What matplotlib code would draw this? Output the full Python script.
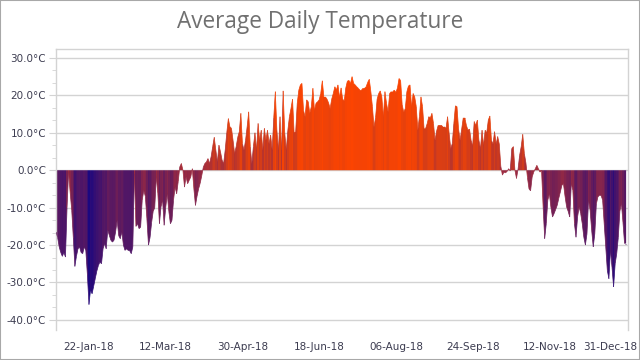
import numpy as np
import pandas as pd
import matplotlib
matplotlib.use('Agg')
import matplotlib.pyplot as plt
import matplotlib.dates as mdates
from matplotlib.colors import LinearSegmentedColormap, Normalize
from matplotlib.collections import LineCollection
from matplotlib.path import Path
from matplotlib.ticker import MultipleLocator, AutoMinorLocator, FuncFormatter
from matplotlib.patches import Rectangle
from matplotlib.transforms import ScaledTranslation

days = pd.date_range('2018-01-01', '2018-12-31', freq='D')

# average daily temperature, degC
temps = [
    -16.5, -18, -20.5, -22, -23, -22, -23.2, -10, -0.5, -6,
    -10.7, -18, -25.7, -23, -21, -20.5, -22, -22.3, -20.5, -21.5,
    -28, -35.9, -32, -33, -31, -29, -27, -25.5, -24.5, -25,
    -21, -19.6, -21, -16, -17.4, -18.7, -19.2, -18.7, -16.5, -13.4,
    -17.5, -18.3, -16.5, -20, -21.4, -21, -21.4, -21.5, -22.3, -20.5,
    -1, -15, -14.3, -15.6, -15.2, -8, -5.4, -7, -13, -20,
    -18, -14, -11, -10, -1.8, -6.3, -14.3, -9.8, -8, -14.7,
    -10, -6.3, -11, -14.3, -13.4, -8, -4.5, -6.3, -3, 0.9,
    1.8, 0, -4.5, -1.8, -3.6, -2.7, -1.8, 0.4, -5, -9.4,
    -7, -5, -3.5, -1.5, 0.8, 1.8, 2.2, 3.1, 1.8, 3.6,
    6.3, 8.8, 5.4, 2.2, 6.7, 4.9, 2.7, 1.8, 5.4, 10,
    13.8, 11.6, 11.2, 8, 4.5, 6.3, 8.8, 10.3, 15.2, 7.1,
    5.4, 8, 11.6, 15.6, 6.3, 1.8, 6.3, 10, 5.4, 12.5,
    8, 10.7, 5.4, 11.2, 8, 10.7, 7.1, 9.4, 5.4, 14,
    21, 10.7, 5.4, 14.3, 5.4, 21.2, 10, 5.4, 10.7, 14.3,
    16.5, 19, 10, 10.3, 17.9, 21.4, 22.8, 23.2, 16, 14.3,
    18.8, 18.3, 15.2, 17, 21.9, 16, 17.9, 18.3, 18.8, 20.5,
    23.9, 19.6, 19.6, 19, 18, 16.5, 19, 20.5, 22.3, 21.5,
    22.8, 19.5, 22, 19, 18.5, 22, 23.8, 24, 23.2, 25,
    23.2, 22.8, 22.3, 21.9, 21.4, 21.4, 21.9, 21.9, 22.3, 23.5,
    24.3, 21, 17, 11.6, 14, 19, 20.5, 21.2, 19.6, 14.3,
    21, 17.9, 15.6, 20.5, 21, 21, 21.4, 20.8, 22, 24.5,
    24, 17.5, 15.5, 16.5, 21, 22.5, 22.8, 17, 20.5, 19.6,
    17, 10.7, 14.3, 19.6, 17, 11, 11.2, 12.5, 14.3, 14,
    15.2, 12.5, 8, 10.5, 12, 12, 12, 11.6, 11.6, 11.2,
    14.3, 9.8, 5.8, 7.1, 12.5, 17.2, 17, 11, 8, 11,
    14, 14, 12, 10.7, 11, 8, 6.5, 13, 12, 13.4,
    8, 5.8, 10.7, 6.7, 10.7, 10, 13.4, 14.5, 8, 7,
    10.3, 7, 9, 7, 1, -1.3, -0.5, -0.7, -0.3, 0.4,
    -0.2, 5.8, 6.3, 0, -2.2, 0.3, 4, 6.3, 9.6, 4.5,
    2, -2, -5, -5.5, -1.8, -0.5, 0.4, 1.3, 0.4, -0.5,
    0, -9.8, -18.3, -14.3, -8, -6.3, -10, -12.5, -11.6, -10.5,
    -9.4, -7.5, -5.8, -4, -3.6, -7, -9.8, -11, -12.5, -3.6,
    -5.4, -14.3, -17.9, -12.5, -9.8, -11.6, -14.3, -17.9, -20, -17,
    -8, -10.7, -16, -20.5, -17, -9, -7.1, -6.7, -6.7, -8,
    -14.3, -20.5, -26.8, -29, -21.4, -26, -31.2, -25, -22.3, -18,
    -11, -8.9, -14, -19.6, -19.6,
]

tick_dates = ['2018-01-22', '2018-03-12', '2018-04-30', '2018-06-18',
              '2018-08-06', '2018-09-24', '2018-11-12', '2018-12-31']
tick_labels = ['22-Jan-18', '12-Mar-18', '30-Apr-18', '18-Jun-18',
               '06-Aug-18', '24-Sep-18', '12-Nov-18', '31-Dec-18']

label_col = '#3c3c50'
grid_col = '#d3d3d3'


def main():
    x = mdates.date2num(days)
    y = np.array(temps)

    cmap = LinearSegmentedColormap.from_list(
        'temp', [(0.0, '#1c0880'), (0.58, '#9e2c40'), (0.8, '#e3410f'), (1.0, '#ff4500')])
    norm = Normalize(vmin=-36, vmax=26)

    fig = plt.figure(figsize=(6.4, 3.6), dpi=100)
    ax = fig.add_axes([56 / 640, 1 - 330 / 360, 572 / 640, 281 / 360])

    ymin, ymax = -42.7, 32.4

    # area outline, used to clip a strip of per-day colours
    area = ax.fill_between(x, y, 0, facecolor='none', edgecolor='none')
    clip = Path.make_compound_path(*area.get_paths())
    colors = cmap(norm(y))
    im = ax.imshow(colors[np.newaxis, :, :], extent=[x[0] - 0.5, x[-1] + 0.5, ymin, ymax],
                   aspect='auto', interpolation='nearest', zorder=2)
    im.set_clip_path(clip, ax.transData)

    # thin coloured outline to soften the clipped edge
    pts = np.column_stack([x, y])
    segs = np.stack([pts[:-1], pts[1:]], axis=1)
    ax.add_collection(LineCollection(segs, colors=colors[:-1], linewidths=0.5, zorder=3))

    ax.set_xlim(x[0] - 0.05, x[-1] + 1.2)
    ax.set_ylim(ymin, ymax)

    ax.yaxis.set_major_locator(MultipleLocator(10))
    ax.yaxis.set_minor_locator(AutoMinorLocator(3))
    ax.yaxis.set_major_formatter(FuncFormatter(lambda v, p: f'{v:.1f}°C'))
    ax.grid(axis='y', color=grid_col, linewidth=1, zorder=0)
    ax.set_axisbelow(True)

    ax.set_xticks(mdates.date2num(pd.to_datetime(tick_dates)))
    ax.set_xticklabels(tick_labels)

    ax.tick_params(axis='y', which='major', length=5, color=grid_col,
                   labelsize=7.5, labelcolor=label_col, pad=2)
    ax.tick_params(axis='y', which='minor', length=3, color=grid_col)
    ax.tick_params(axis='x', length=0, labelsize=7.5, labelcolor=label_col, pad=9)

    last = ax.get_xticklabels()[-1]
    last.set_horizontalalignment('right')
    last.set_transform(last.get_transform() + ScaledTranslation(11 / 100, 0, fig.dpi_scale_trans))

    for s in ['left', 'top', 'right']:
        ax.spines[s].set_color(grid_col)
        ax.spines[s].set_linewidth(1)
    ax.spines['bottom'].set_visible(False)

    fig.text(0.5, 1 - 28 / 360, 'Average Daily Temperature', ha='center', va='baseline',
             fontsize=16.3, color='#707070', family='Open Sans')

    fig.patches.append(Rectangle((0, 0), 1, 1, transform=fig.transFigure, fill=False,
                                 edgecolor='#a8a8a8', linewidth=1.5))

    fig.savefig('out.png', dpi=100)


if __name__ == "__main__":
    main()
